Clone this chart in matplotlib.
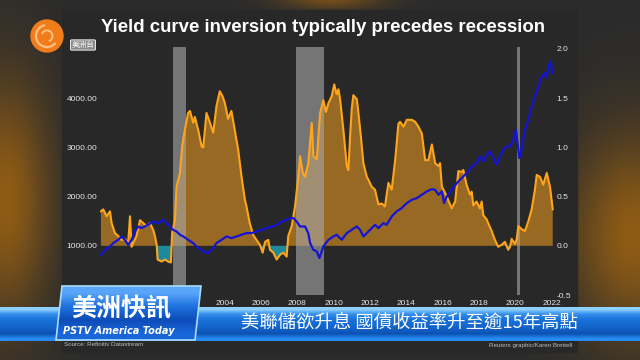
'''
Yield curve vs S&P 500 - TV screenshot recreation
'''

# Imports
import numpy as np
import matplotlib
matplotlib.use('Agg')
import matplotlib.pyplot as plt
from matplotlib.patches import Rectangle, Polygon, Circle, Arc
from matplotlib.ticker import FormatStrFormatter

plt.rcParams['font.family'] = ['Liberation Sans', 'Noto Sans CJK TC', 'DejaVu Sans']

# Main Vars
# 10y-2y spread (right axis)
SPREAD_YEAR = [
    1997.20, 1997.33, 1997.51, 1997.70, 1997.79, 1997.97, 1998.15, 1998.34, 1998.52, 1998.70,
    1998.80, 1998.89, 1998.98, 1999.16, 1999.35, 1999.53, 1999.72, 1999.90, 2000.08, 2000.17,
    2000.27, 2000.32, 2000.54, 2000.72, 2000.90, 2001.05, 2001.12, 2001.27, 2001.36, 2001.55,
    2001.67, 2001.82, 2002.00, 2002.10, 2002.28, 2002.37, 2002.55, 2002.74, 2002.83, 2003.01,
    2003.20, 2003.38, 2003.56, 2003.74, 2003.89, 2004.02, 2004.20, 2004.38, 2004.56, 2004.75,
    2004.94, 2005.12, 2005.21, 2005.39, 2005.58, 2005.76, 2005.95, 2006.10, 2006.23, 2006.41,
    2006.50, 2006.69, 2006.87, 2007.06, 2007.24, 2007.42, 2007.51, 2007.70, 2007.88, 2008.06,
    2008.16, 2008.31, 2008.43, 2008.61, 2008.80, 2008.89, 2009.08, 2009.26, 2009.44, 2009.58,
    2009.72, 2009.90, 2010.04, 2010.17, 2010.27, 2010.36, 2010.54, 2010.63, 2010.73, 2010.82,
    2010.91, 2011.00, 2011.09, 2011.28, 2011.37, 2011.52, 2011.64, 2011.83, 2011.92, 2012.10,
    2012.28, 2012.47, 2012.65, 2012.83, 2013.02, 2013.20, 2013.39, 2013.57, 2013.66, 2013.85,
    2014.03, 2014.31, 2014.49, 2014.67, 2014.86, 2015.04, 2015.22, 2015.41, 2015.59, 2015.77,
    2015.86, 2015.96, 2016.05, 2016.23, 2016.50, 2016.69, 2016.87, 2017.05, 2017.14, 2017.32,
    2017.51, 2017.60, 2017.69, 2017.87, 2018.06, 2018.15, 2018.24, 2018.42, 2018.51, 2018.70,
    2018.88, 2019.06, 2019.25, 2019.43, 2019.61, 2019.71, 2019.80, 2019.98, 2020.07, 2020.17,
    2020.35, 2020.53, 2020.72, 2020.90, 2021.08, 2021.18, 2021.36, 2021.54, 2021.73, 2021.91, 2022.06]
SPREAD_VAL = [
    0.35, 0.37, 0.30, 0.35, 0.23, 0.13, 0.10, 0.06, 0.07, 0.03,
    0.30, -0.01, 0.03, 0.10, 0.26, 0.23, 0.20, 0.23, 0.16, 0.10,
    0.01, -0.14, -0.16, -0.14, -0.16, -0.17, 0.13, 0.26, 0.60, 0.74,
    1.01, 1.18, 1.35, 1.37, 1.25, 1.31, 1.18, 1.01, 1.00, 1.35,
    1.25, 1.15, 1.42, 1.57, 1.52, 1.45, 1.29, 1.37, 1.18, 0.98,
    0.70, 0.47, 0.40, 0.23, 0.11, 0.06, 0.01, -0.07, 0.04, 0.06,
    -0.04, -0.07, -0.14, -0.09, -0.07, -0.11, 0.10, 0.20, 0.40, 0.70,
    0.91, 0.74, 0.70, 0.84, 1.25, 0.91, 0.88, 1.35, 1.48, 1.36,
    1.45, 1.52, 1.64, 1.54, 1.59, 1.49, 1.18, 1.01, 0.81, 0.77,
    1.11, 1.39, 1.53, 1.49, 1.35, 1.08, 0.84, 0.70, 0.67, 0.60,
    0.57, 0.42, 0.43, 0.40, 0.64, 0.57, 0.87, 1.24, 1.26, 1.21,
    1.28, 1.28, 1.26, 1.21, 1.14, 0.87, 0.87, 1.03, 0.84, 0.81,
    0.84, 0.60, 0.57, 0.50, 0.38, 0.45, 0.76, 0.75, 0.77, 0.62,
    0.52, 0.55, 0.41, 0.45, 0.38, 0.45, 0.31, 0.27, 0.23, 0.15,
    0.06, -0.01, 0.01, 0.04, -0.04, -0.01, 0.07, 0.02, 0.06, 0.20,
    0.17, 0.15, 0.25, 0.37, 0.57, 0.72, 0.70, 0.62, 0.74, 0.60, 0.37]

# S&P 500 (left axis)
SP_YEAR = [
    1997.20, 1997.42, 1997.70, 1997.88, 1998.15, 1998.34, 1998.52, 1998.70, 1998.89, 1999.07,
    1999.25, 1999.44, 1999.62, 1999.80, 2000.08, 2000.35, 2000.63, 2000.81, 2000.99, 2001.17,
    2001.36, 2001.55, 2001.73, 2002.00, 2002.28, 2002.55, 2002.83, 2003.10, 2003.38, 2003.56,
    2003.84, 2004.11, 2004.38, 2004.66, 2004.94, 2005.21, 2005.49, 2005.76, 2006.05, 2006.32,
    2006.60, 2006.87, 2007.15, 2007.42, 2007.61, 2007.79, 2007.97, 2008.16, 2008.43, 2008.61,
    2008.71, 2008.89, 2009.08, 2009.22, 2009.44, 2009.72, 2009.99, 2010.17, 2010.45, 2010.73,
    2011.00, 2011.28, 2011.46, 2011.64, 2011.83, 2012.10, 2012.28, 2012.47, 2012.74, 2012.92,
    2013.20, 2013.47, 2013.75, 2014.03, 2014.31, 2014.58, 2014.86, 2015.13, 2015.41, 2015.59,
    2015.77, 2015.96, 2016.08, 2016.23, 2016.50, 2016.78, 2017.05, 2017.32, 2017.60, 2017.87,
    2018.06, 2018.24, 2018.42, 2018.61, 2018.79, 2018.97, 2019.15, 2019.34, 2019.52, 2019.71,
    2019.89, 2020.04, 2020.17, 2020.22, 2020.35, 2020.53, 2020.72, 2020.90, 2021.08, 2021.27,
    2021.45, 2021.63, 2021.73, 2021.82, 2021.95, 2022.04]
SP_VAL = [
    817, 919, 986, 1054, 1122, 1190, 1122, 1020, 1122, 1291,
    1393, 1359, 1393, 1427, 1494, 1460, 1529, 1460, 1393, 1325,
    1291, 1224, 1190, 1122, 1054, 953, 885, 851, 953, 1054,
    1122, 1190, 1156, 1190, 1224, 1258, 1258, 1291, 1325, 1359,
    1393, 1427, 1494, 1529, 1562, 1562, 1494, 1393, 1393, 1258,
    1054, 919, 885, 750, 986, 1122, 1190, 1224, 1122, 1258,
    1325, 1393, 1325, 1190, 1258, 1359, 1427, 1359, 1460, 1427,
    1596, 1698, 1766, 1868, 1935, 1969, 2037, 2105, 2152, 2139,
    2037, 2105, 1868, 2003, 2139, 2274, 2376, 2478, 2613, 2681,
    2816, 2715, 2850, 2918, 2783, 2647, 2816, 2952, 3019, 3019,
    3155, 3358, 2952, 2783, 2952, 3358, 3561, 3832, 4036, 4239,
    4442, 4510, 4409, 4646, 4747, 4510]

REC_START = [2001.17, 2007.92, 2020.08]
REC_END = [2001.90, 2009.45, 2020.25]

# labels before 2004 sit behind the news box on screen
X_TICKS = list(range(2004, 2023, 2))
LEFT_TICKS = [1000, 2000, 3000, 4000]
RIGHT_TICKS = [-0.5, 0.0, 0.5, 1.0, 1.5, 2.0]

TITLE = 'Yield curve inversion typically precedes recession'
HEADLINE = '美聯儲欲升息 國債收益率升至逾15年高點'

W, H = 640, 360
CJK = ['Noto Sans CJK TC', 'DejaVu Sans']

# Figure + blurred studio background
fig = plt.figure(figsize=(6.4, 3.6), dpi=100)
ax_bg = fig.add_axes([0, 0, 1, 1], zorder=0)
ax_bg.set_axis_off()

yy, xx = np.mgrid[0:H, 0:W]
def Glow(cx, cy, sx, sy, amp):
    return amp * np.exp(-(((xx - cx) / sx) ** 2 + ((yy - cy) / sy) ** 2))

g = Glow(5, 200, 45, 120, 1.0) + Glow(635, 235, 65, 100, 1.0) + Glow(330, -5, 50, 14, 0.8)
g = np.clip(g, 0, 1)[..., None]
bg = np.array([0.17, 0.17, 0.17]) * (1 - g) + np.array([0.56, 0.36, 0.08]) * g
ax_bg.imshow(bg, extent=(0, W, H, 0), aspect='auto')
ax_bg.add_patch(Rectangle((62, 10), 515, 342, color='#282828'))
ax_bg.text(64, 345, 'Source: Refinitiv Datastream', fontsize=4.5, color='#bbbbbb', va='center')
ax_bg.text(572, 345, 'Reuters graphic/Karen Brettell', fontsize=4.5, color='#bbbbbb',
           va='center', ha='right')
ax_bg.set_xlim(0, W)
ax_bg.set_ylim(H, 0)

fig.text(323 / W, 1 - 27 / H, TITLE, ha='center', va='center', fontsize=13.4,
         weight='bold', color='white')

# Main chart: spread on ax (right ticks), S&P on twin (left ticks)
ax = fig.add_axes([100 / W, 1 - 295 / H, 454 / W, 248 / H], zorder=1)
ax.set_facecolor('none')
ax2 = ax.twinx()

spread_year = np.array(SPREAD_YEAR)
spread_val = np.array(SPREAD_VAL)
ax.fill_between(spread_year, 0, spread_val, where=spread_val >= 0, interpolate=True,
                color='#f5a020', alpha=0.55, lw=0)
ax.fill_between(spread_year, 0, spread_val, where=spread_val <= 0, interpolate=True,
                color='#1d9ab2', alpha=0.85, lw=0)
ax.plot(spread_year, spread_val, color='#ffa51c', lw=1.5)
for s, e in zip(REC_START, REC_END):
    ax.axvspan(s, e, color='#aaaaaa', alpha=0.6, lw=0)

ax2.plot(SP_YEAR, SP_VAL, color='#1414d4', lw=1.6)

ax.set_xlim(1997.15, 2022.13)
ax.set_ylim(-0.5, 2.02)
ax2.set_ylim(0, 5040)

ax.yaxis.tick_right()
ax2.yaxis.tick_left()
ax.set_yticks(RIGHT_TICKS)
ax.yaxis.set_major_formatter(FormatStrFormatter('%.1f'))
ax2.set_yticks(LEFT_TICKS)
ax2.yaxis.set_major_formatter(FormatStrFormatter('%.2f'))
ax.set_xticks(X_TICKS)
ax.set_xticklabels([str(y) for y in X_TICKS])

for a in (ax, ax2):
    a.tick_params(length=0, labelsize=6, colors='#e6e6e6', pad=2)
    for sp in a.spines.values():
        sp.set_visible(False)
ax.tick_params(axis='x', pad=3.5)

# Overlay: logo + news banner
ax_fg = fig.add_axes([0, 0, 1, 1], zorder=5)
ax_fg.set_axis_off()
ax_fg.set_facecolor('none')

ax_fg.add_patch(Circle((47, 36), 16, color='#f07c1c'))
ax_fg.add_patch(Arc((47, 36), 22, 22, theta1=40, theta2=260, color='#ffc080', lw=1.6))
ax_fg.add_patch(Arc((47, 36), 11, 11, theta1=200, theta2=430, color='#ffc080', lw=1.4))
ax_fg.text(83, 45, '美洲台', family=CJK, fontsize=5.5, color='white', ha='center', va='center',
           bbox=dict(boxstyle='round,pad=0.15', fc='#8a8a8a', ec='white', lw=0.6))

strip = np.array([[0.55, 0.82, 1.0], [0.20, 0.55, 0.92], [0.10, 0.45, 0.85], [0.08, 0.42, 0.82],
                  [0.07, 0.38, 0.78], [0.05, 0.32, 0.70], [0.15, 0.55, 0.95]])[:, None, :]
ax_fg.imshow(strip, extent=(0, W, 341, 307), aspect='auto', interpolation='bilinear')

box = np.array([[0.35, 0.65, 0.98], [0.12, 0.45, 0.88], [0.05, 0.30, 0.72], [0.10, 0.40, 0.85]])[:, None, :]
poly = Polygon([(62, 286), (201, 286), (195, 340), (56, 340)], closed=True, fc='none',
               ec='#a8dcff', lw=1.2)
ax_fg.add_patch(poly)
im = ax_fg.imshow(box, extent=(56, 201, 340, 286), aspect='auto', interpolation='bilinear')
im.set_clip_path(poly)
ax_fg.text(121, 309, '美洲快訊', family=CJK, fontsize=18, weight='bold', color='white',
           ha='center', va='center')
ax_fg.text(119, 331, 'PSTV America Today', family=['DejaVu Sans'], fontsize=7, weight='bold',
           style='italic', color='white', ha='center', va='center')
ax_fg.text(409, 324, HEADLINE, family=CJK, fontsize=13.2, color='white', ha='center', va='center')

ax_fg.set_xlim(0, W)
ax_fg.set_ylim(H, 0)

fig.savefig('out.png', dpi=100)
